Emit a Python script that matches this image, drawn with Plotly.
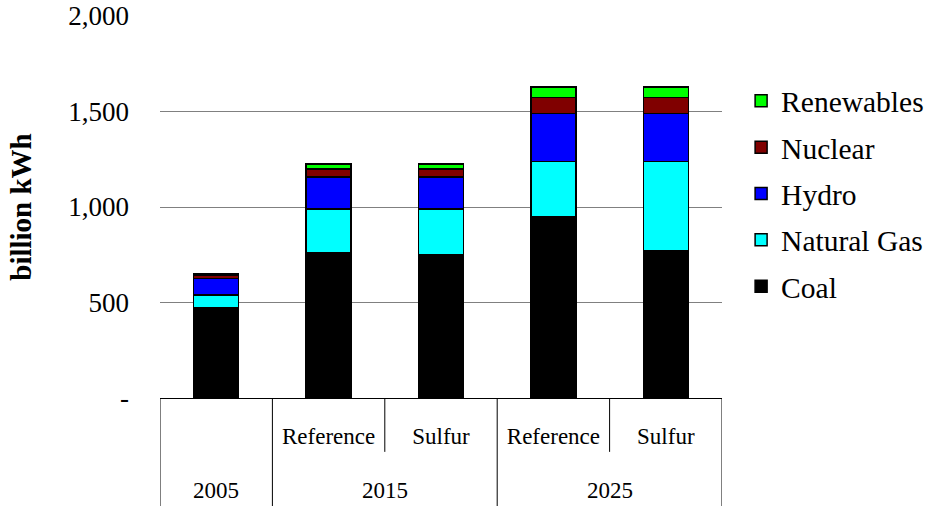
import plotly.graph_objects as go

years = ["2005", "2015", "2015", "2025", "2025"]
scenarios = ["", "Reference", "Sulfur", "Reference", "Sulfur"]

coal = [474, 760, 752, 951, 773]
natural_gas = [66, 230, 238, 287, 465]
hydro = [86, 166, 166, 252, 252]
nuclear = [19, 43, 43, 83, 83]
renewables = [8, 25, 25, 55, 55]

series = [
    ("Coal", coal, "#000000"),
    ("Natural Gas", natural_gas, "#00FFFF"),
    ("Hydro", hydro, "#0000FF"),
    ("Nuclear", nuclear, "#800000"),
    ("Renewables", renewables, "#00FF00"),
]

y_tickvals = [0, 500, 1000, 1500, 2000]
y_ticktext = ["-", "500", "1,000", "1,500", "2,000"]

FONT = "Liberation Serif, Times New Roman, serif"

# category keys (one per bar) built from the two label levels
cats = [(y + " " + s).strip() for y, s in zip(years, scenarios)]

fig = go.Figure()
n_series = len(series)
for k, (name, vals, color) in enumerate(series):
    fig.add_trace(go.Bar(
        x=cats, y=vals, name=name, legendgroup=name, legendrank=n_series - k,
        marker=dict(color=color, line=dict(color="#000000", width=1.5)),
    ))

# outer-level year labels, centred on each group of bars
groups = []
for i, y in enumerate(years):
    if groups and groups[-1][0] == y:
        groups[-1][2] = i
    else:
        groups.append([y, i, i])

annotations = []
for y, i0, i1 in groups:
    annotations.append(dict(
        x=(i0 + i1) / 2, xref="x", y=-0.241, yref="paper",
        text=y, showarrow=False, yanchor="middle", xanchor="center",
        font=dict(family=FONT, size=23, color="black"),
    ))

# divider lines below the axis
shapes = []
full_len = -0.283
inner_len = -0.141
bounds = [(-0.5, True)]
for i in range(len(years) - 1):
    bounds.append((i + 0.5, years[i] != years[i + 1]))
bounds.append((len(years) - 0.5, True))
for xb, full in bounds:
    shapes.append(dict(
        type="line", xref="x", yref="paper", x0=xb, x1=xb, y0=0,
        y1=full_len if full else inner_len,
        line=dict(color="#000000", width=1),
    ))

fig.update_layout(
    width=928, height=506,
    margin=dict(l=160, r=206, t=16, b=108, autoexpand=False),
    barmode="stack", bargap=0.6,
    plot_bgcolor="white", paper_bgcolor="white",
    font=dict(family=FONT, color="black"),
    showlegend=True,
    legend=dict(
        x=1.034, xanchor="left", y=0.535, yanchor="middle",
        traceorder="grouped", tracegroupgap=5,
        font=dict(family=FONT, size=29.5, color="black"),
        bgcolor="rgba(0,0,0,0)",
    ),
    annotations=annotations,
    shapes=shapes,
)

fig.update_yaxes(
    range=[0, 2000], tickvals=y_tickvals, ticktext=y_ticktext,
    showgrid=True, gridcolor="#808080", gridwidth=1,
    zeroline=False, showline=False, ticks="",
    ticklabelstandoff=30,
    tickfont=dict(family=FONT, size=27, color="black"),
    title=dict(text="<b>billion kWh</b>", font=dict(family=FONT, size=29, color="black"), standoff=28),
)

fig.update_xaxes(
    type="category", range=[-0.5, len(cats) - 0.5],
    tickvals=cats, ticktext=scenarios,
    showline=True, linecolor="#000000", linewidth=1,
    ticks="", ticklabelstandoff=17,
    tickfont=dict(family=FONT, size=23, color="black"),
    showgrid=False,
)

fig.write_html("out.html")
